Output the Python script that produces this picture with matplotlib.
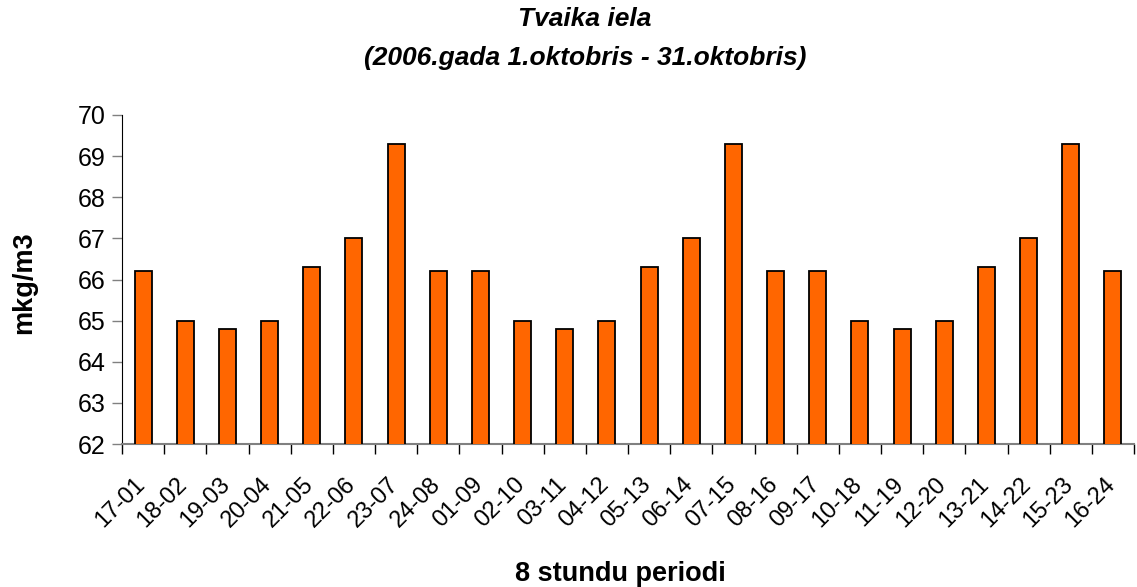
import numpy as np
import matplotlib
matplotlib.use('Agg')
import matplotlib.pyplot as plt
from matplotlib.transforms import ScaledTranslation

plt.rcParams['font.family'] = ['Liberation Sans', 'DejaVu Sans']

# 8-hour periods and values (mkg/m3)
periods = ['17-01', '18-02', '19-03', '20-04', '21-05', '22-06', '23-07', '24-08',
           '01-09', '02-10', '03-11', '04-12', '05-13', '06-14', '07-15', '08-16',
           '09-17', '10-18', '11-19', '12-20', '13-21', '14-22', '15-23', '16-24']
values = [66.2, 65.0, 64.8, 65.0, 66.3, 67.0, 69.3, 66.2,
          66.2, 65.0, 64.8, 65.0, 66.3, 67.0, 69.3, 66.2,
          66.2, 65.0, 64.8, 65.0, 66.3, 67.0, 69.3, 66.2]
y_ticks = [62, 63, 64, 65, 66, 67, 68, 69, 70]

fig = plt.figure(figsize=(11.37, 5.87), dpi=100)
ax = fig.add_axes([122 / 1137, 1 - 444 / 587, (1134 - 122) / 1137, (444 - 115) / 587])

x = np.arange(len(periods))
ax.bar(x, values, width=0.4, bottom=0, color='#FF6600', edgecolor='black', linewidth=1.3, zorder=3)

ax.set_xlim(-0.5, len(periods) - 0.5)
ax.set_ylim(62, 70)
ax.set_yticks(y_ticks)
ax.tick_params(axis='y', labelsize=18, length=7, width=1, color='#808080', direction='out', pad=5)

# ticks at category boundaries, labels at centers
ax.set_xticks(np.arange(len(periods) + 1) - 0.5)
ax.set_xticklabels([])
ax.set_xticks(x, minor=True)
ax.set_xticklabels(periods, minor=True, rotation=45, ha='right', va='top',
                   rotation_mode='anchor', fontsize=17)
ax.tick_params(axis='x', which='major', length=7, width=1, direction='out')
ax.tick_params(axis='x', which='minor', length=0, pad=21)
shift = ScaledTranslation(-9 / 100, 0, fig.dpi_scale_trans)
for lbl in ax.get_xticklabels(minor=True):
    lbl.set_transform(lbl.get_transform() + shift)

for s in ['top', 'right']:
    ax.spines[s].set_visible(False)
ax.spines['left'].set_color('black')
ax.spines['bottom'].set_color('#808080')
ax.spines['bottom'].set_linewidth(1.5)

fig.text(585 / 1137, 1 - 19 / 587, 'Tvaika iela', ha='center', va='center',
         fontsize=19, fontweight='bold', fontstyle='italic')
fig.text(585 / 1137, 1 - 58 / 587, '(2006.gada 1.oktobris - 31.oktobris)', ha='center', va='center',
         fontsize=19, fontweight='bold', fontstyle='italic')
fig.text(620 / 1137, 1 - 574 / 587, '8 stundu periodi', ha='center', va='center',
         fontsize=19.5, fontweight='bold')
fig.text(24 / 1137, 1 - 283 / 587, 'mkg/m3', ha='center', va='center', rotation=90,
         fontsize=19.5, fontweight='bold')

fig.savefig('out.png', dpi=100)
